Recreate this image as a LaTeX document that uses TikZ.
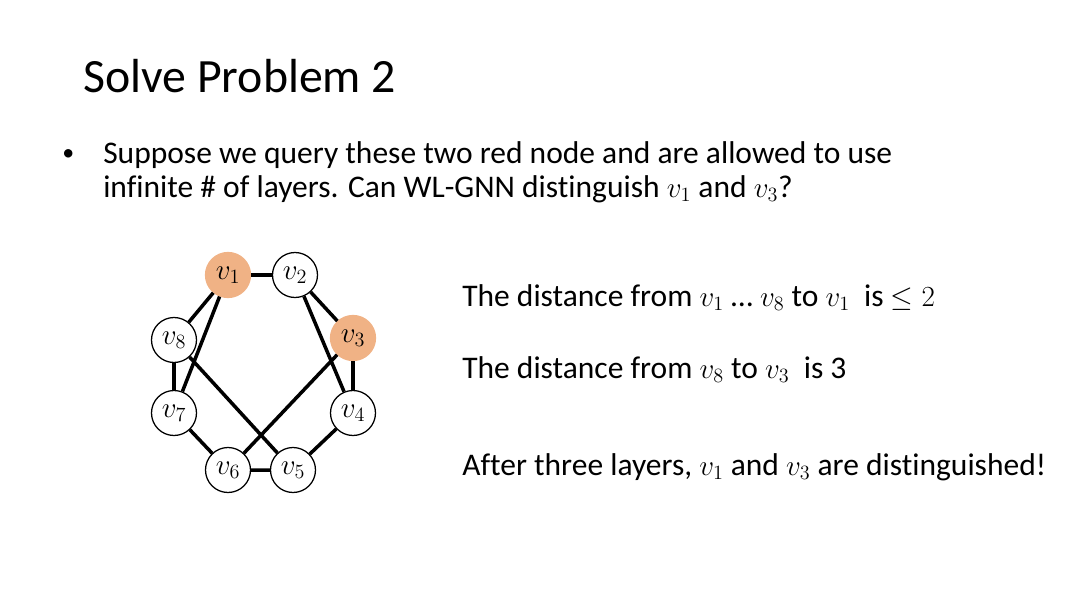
\documentclass[tikz,border=0pt]{standalone}
\usepackage{fontspec}
\setmainfont{Carlito}[Ligatures=NoCommon]
\definecolor{qorange}{HTML}{F0B285}
\tikzset{
  vtx/.style={circle,draw,line width=0.9pt,minimum size=32pt,inner sep=0pt,fill=white,font=\fontsize{22}{24}\selectfont},
  qvtx/.style={vtx,draw=qorange,fill=qorange},
  edge/.style={line width=2.5pt},
  txt/.style={anchor=base west,inner sep=0pt,font=\fontsize{22.4}{26}\selectfont}
}
\begin{document}
\begin{tikzpicture}[x=0.025cm,y=-0.025cm]
    \useasboundingbox (0,0) rectangle (1080,607);
    % title and question
    \node[txt,font=\fontsize{34}{40}\selectfont] (title) at (83,92) {Solve Problem 2};
    \node[txt,font=\fontsize{17}{20}\selectfont] (bul) at (62,160) {\textbullet};
    \node[txt] (q1) at (103,163) {Suppose we query these two red node and are allowed to use};
    \node[txt] (q2) at (103,197) {infinite \# of layers. Can WL-GNN distinguish $v_1$ and $v_3$?};
    % graph
    \node[qvtx] (v1) at (228,275) {$v_1$};
    \node[vtx]  (v2) at (295,275) {$v_2$};
    \node[qvtx] (v3) at (353,338) {$v_3$};
    \node[vtx]  (v4) at (353,413) {$v_4$};
    \node[vtx]  (v5) at (293,470) {$v_5$};
    \node[vtx]  (v6) at (228,470) {$v_6$};
    \node[vtx]  (v7) at (174,413) {$v_7$};
    \node[vtx]  (v8) at (174,340) {$v_8$};
    \draw[edge] (v1) -- (v2) (v1) -- (v8) (v1) -- (v7) (v2) -- (v3) (v2) -- (v4)
                (v3) -- (v4) (v3) -- (v6) (v8) -- (v7) (v8) -- (v5) (v7) -- (v6)
                (v6) -- (v5) (v5) -- (v4);
    % remarks
    \node[txt] (r1) at (462,306) {The distance from $v_1$ \dots\ $v_8$ to $v_1$\ \ is $\le 2$};
    \node[txt] (r2) at (462,378) {The distance from $v_8$ to $v_3$\ \ is 3};
    \node[txt] (r3) at (462,475) {After three layers, $v_1$ and $v_3$ are distinguished!};
\end{tikzpicture}
\end{document}
